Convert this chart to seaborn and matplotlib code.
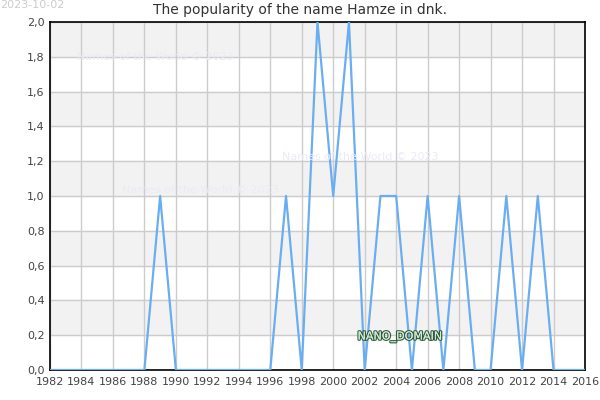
import matplotlib
matplotlib.use("Agg")
import matplotlib.pyplot as plt
import matplotlib.patheffects as pe
import seaborn as sns
import pandas as pd

years = list(range(1982, 2017))
counts = [0, 0, 0, 0, 0, 0, 0, 1, 0, 0, 0, 0, 0, 0, 0, 1, 0, 2, 1, 2,
          0, 1, 1, 0, 1, 0, 1, 0, 0, 1, 0, 1, 0, 0, 0]
x_ticks = list(range(1982, 2017, 2))
y_ticks = [0.0, 0.2, 0.4, 0.6, 0.8, 1.0, 1.2, 1.4, 1.6, 1.8, 2.0]

df = pd.DataFrame({"year": years, "count": counts})

sns.set_style("white")
plt.rcParams["font.family"] = ["DejaVu Sans"]

fig = plt.figure(figsize=(6, 4), dpi=100)
ax = fig.add_axes([0.0833, 0.075, 0.8917, 0.87])

# grey bands every other step
for i in range(1, len(y_ticks) - 1, 2):
    ax.axhspan(y_ticks[i], y_ticks[i + 1], color="#f2f2f2", zorder=0)

sns.lineplot(data=df, x="year", y="count", ax=ax, color="#6aaef2",
             linewidth=1.6, zorder=3)

ax.set_xlim(1982, 2016)
ax.set_ylim(0, 2.0)
ax.set_xticks(x_ticks)
ax.set_yticks(y_ticks)
ax.set_yticklabels([f"{v:.1f}".replace(".", ",") for v in y_ticks])
ax.grid(True, color="#cccccc", linewidth=1, zorder=1)
ax.set_axisbelow(True)
ax.tick_params(axis="both", labelsize=8, colors="#444444", length=0)
ax.tick_params(axis="x", pad=5)
ax.tick_params(axis="y", pad=4)
ax.set_xlabel("")
ax.set_ylabel("")
for s in ax.spines.values():
    s.set_color("black")
    s.set_linewidth(1.2)

fig.text(0.5, 1 - 10 / 400, "The popularity of the name Hamze in dnk.",
         ha="center", va="center", fontsize=10, color="#333333")
fig.text(0.0, 1.0, "2023-10-02", ha="left", va="top", fontsize=8, color="#cccccc")

wm = "Names of the World © 2023"
for xp, yp in [(155, 57), (360, 157), (200, 190)]:
    fig.text(xp / 600, 1 - yp / 400, wm, ha="center", va="center",
             fontsize=8, color="#ebebf7", zorder=5)

t = fig.text(400 / 600, 1 - 337 / 400, "NANO_DOMAIN", ha="center", va="center",
             fontsize=8, color="#d8ead8", zorder=6)
t.set_path_effects([pe.withStroke(linewidth=1.8, foreground="#2e5e3e"), pe.Normal()])

fig.savefig("out.png", dpi=100)
